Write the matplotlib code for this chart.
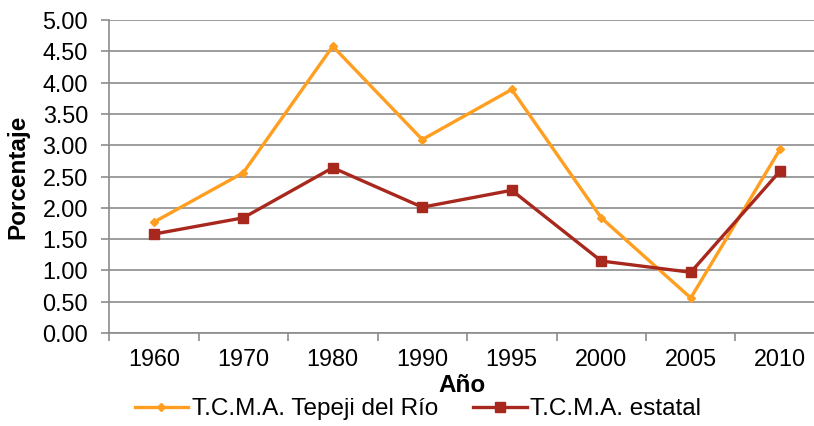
#!/bin/python

import numpy as np
import matplotlib
matplotlib.use("Agg")
import matplotlib.pyplot as plt
from matplotlib.ticker import FixedLocator, MultipleLocator


years = ["1960", "1970", "1980", "1990", "1995", "2000", "2005", "2010"]
tepeji = [1.77, 2.56, 4.58, 3.09, 3.89, 1.84, 0.56, 2.94]
estatal = [1.58, 1.84, 2.64, 2.01, 2.28, 1.15, 0.97, 2.59]

ORANGE = "#ff9e1f"
RED = "#a8281e"
GRID = "#8c8c8c"


def plot_tcma():
    """
    Plot the T.C.M.A. of Tepeji del Rio against the state one.
    """
    plt.rcParams["font.family"] = ["Liberation Sans", "DejaVu Sans"]
    plt.rcParams["font.size"] = 16.8

    fig = plt.figure(figsize=(8.14, 4.26), dpi=100)
    ax = fig.add_axes([109 / 814, 1 - 333 / 426, 716 / 814, 313 / 426])

    x = np.arange(len(years))
    ax.plot(x, tepeji, c=ORANGE, lw=2.4, marker="D", ms=4.5,
            label="T.C.M.A. Tepeji del Río", zorder=3)
    ax.plot(x, estatal, c=RED, lw=2.4, marker="s", ms=6.5,
            label="T.C.M.A. estatal", zorder=3)

    ax.set_xlim(-0.5, len(years) - 0.5)
    ax.set_ylim(0, 5)
    ax.yaxis.set_major_locator(MultipleLocator(0.5))
    ax.yaxis.set_major_formatter(plt.FormatStrFormatter("%.2f"))
    ax.set_xticks(x)
    ax.set_xticklabels(years)
    ax.xaxis.set_minor_locator(FixedLocator(np.arange(-0.5, len(years), 1)))

    ax.grid(axis="y", color=GRID, lw=1.2)
    ax.set_axisbelow(True)
    for side in ("top", "right"):
        ax.spines[side].set_visible(False)
    for side in ("left", "bottom"):
        ax.spines[side].set_color(GRID)
        ax.spines[side].set_linewidth(1.2)

    ax.tick_params(axis="y", length=6, width=1.2, color=GRID, pad=9)
    ax.tick_params(axis="x", which="major", length=0, pad=11)
    ax.tick_params(axis="x", which="minor", length=6, width=1.2, color=GRID)

    ax.set_xlabel("Año", fontweight="bold", fontsize=17.5)
    ax.xaxis.set_label_coords((462 - 109) / 716, (333 - 386) / 313)
    ax.set_ylabel("Porcentaje", fontweight="bold", fontsize=17.5)
    ax.yaxis.set_label_coords((18 - 109) / 716, 0.5)
    ax.xaxis.label.set_va("center")
    ax.yaxis.label.set_va("center")

    fig.legend(loc="center", bbox_to_anchor=(418 / 814, 1 - 409 / 426),
               ncol=2, frameon=False, fontsize=17.5, handlelength=2.2,
               handletextpad=0.15, columnspacing=1.45, borderpad=0,
               borderaxespad=0)

    fig.savefig("out.png", dpi=100)


if __name__ == "__main__":
    plot_tcma()
